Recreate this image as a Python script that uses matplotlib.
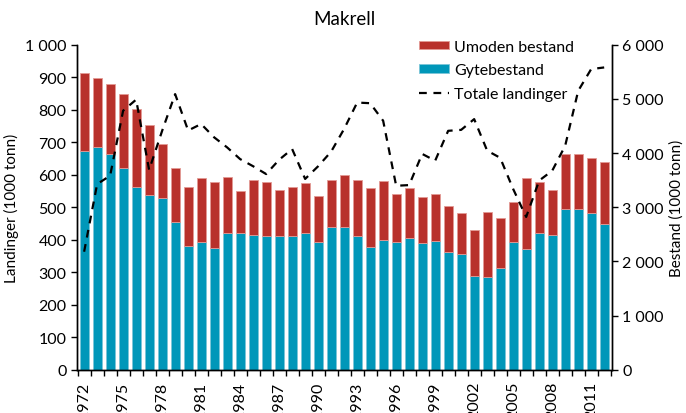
import numpy as np
import matplotlib.pyplot as plt
from matplotlib.ticker import FuncFormatter, MultipleLocator

plt.rcParams['font.family'] = ['Lato', 'DejaVu Sans']

years = np.arange(1972, 2013)

# bestand, 1000 tonn (right axis)
gytebestand = [4040, 4120, 3980, 3720, 3380, 3230, 3170, 2730, 2290, 2350,
               2240, 2520, 2520, 2490, 2470, 2460, 2460, 2520, 2360, 2630,
               2630, 2460, 2270, 2390, 2360, 2430, 2330, 2380, 2170, 2140,
               1730, 1710, 1870, 2350, 2220, 2520, 2490, 2970, 2970, 2900, 2690]
umoden = [1440, 1260, 1290, 1370, 1430, 1280, 990, 990, 1090, 1180,
          1220, 1030, 770, 1010, 1000, 850, 920, 920, 840, 870,
          960, 1040, 1080, 1100, 890, 920, 860, 870, 860, 760,
          850, 1200, 930, 740, 1310, 950, 820, 1020, 1020, 1010, 1140]

# landinger, 1000 tonn (left axis)
landinger = [363, 571, 597, 797, 831, 615, 735, 848, 736, 756,
             715, 684, 648, 626, 602, 646, 679, 587, 626, 671,
             741, 822, 820, 766, 566, 568, 664, 643, 735, 738,
             771, 674, 652, 556, 470, 582, 612, 689, 858, 925, 930]

red = '#b8312b'
teal = '#0097b9'


def space_thousands(v, pos):
    return f'{int(v):,}'.replace(',', ' ')


fig = plt.figure(figsize=(6.86, 4.14), dpi=100)
ax = fig.add_axes([0.1122, 0.1046, 0.7799, 0.785])
ax2 = ax.twinx()

ax2.bar(years, gytebestand, width=0.7, color=teal, edgecolor='#7cc6d8', linewidth=0.6,
        label='Gytebestand')
ax2.bar(years, umoden, width=0.7, bottom=gytebestand, color=red, edgecolor='#e39a95',
        linewidth=0.6, label='Umoden bestand')
ax.plot(years, landinger, color='black', linestyle=(0, (3.5, 3)), linewidth=1.6,
        label='Totale landinger')

ax.set_zorder(ax2.get_zorder() + 1)
ax.patch.set_visible(False)

ax.set_xlim(1971.45, 2012.6)
ax.set_ylim(0, 1000)
ax2.set_ylim(0, 6000)
ax.yaxis.set_major_locator(MultipleLocator(100))
ax2.yaxis.set_major_locator(MultipleLocator(1000))
ax.yaxis.set_major_formatter(FuncFormatter(space_thousands))
ax2.yaxis.set_major_formatter(FuncFormatter(space_thousands))

ax.set_xticks(years[::3])
ax.set_xticklabels([str(y) for y in years[::3]], rotation=90)
ax.set_xticks(np.arange(1971.5, 2013, 1), minor=True)
ax.tick_params(axis='x', which='major', length=0, pad=8, labelsize=11.5)
ax.tick_params(axis='x', which='minor', length=4, width=1)
ax.tick_params(axis='y', length=4, width=1, labelsize=11.5)
ax2.tick_params(axis='y', length=4, width=1, labelsize=11.5)

for a in (ax, ax2):
    a.spines['top'].set_visible(False)
    for s in ('left', 'right', 'bottom'):
        a.spines[s].set_linewidth(1)

ax.set_ylabel('Landinger (1000 tonn)', fontsize=11, labelpad=4)
ax2.set_ylabel('Bestand (1000 tonn)', fontsize=11, labelpad=4, rotation=90)
ax.set_title('Makrell', fontsize=13.5, pad=15)

h2, l2 = ax2.get_legend_handles_labels()
h1, l1 = ax.get_legend_handles_labels()
leg = ax.legend([h2[1], h2[0], h1[0]], [l2[1], l2[0], l1[0]],
                loc='upper left', bbox_to_anchor=(0.612, 1.06), frameon=False,
                fontsize=11.5, handlelength=1.9, handleheight=0.45,
                labelspacing=0.6, handletextpad=0.3)

fig.savefig('out.png', dpi=100)
